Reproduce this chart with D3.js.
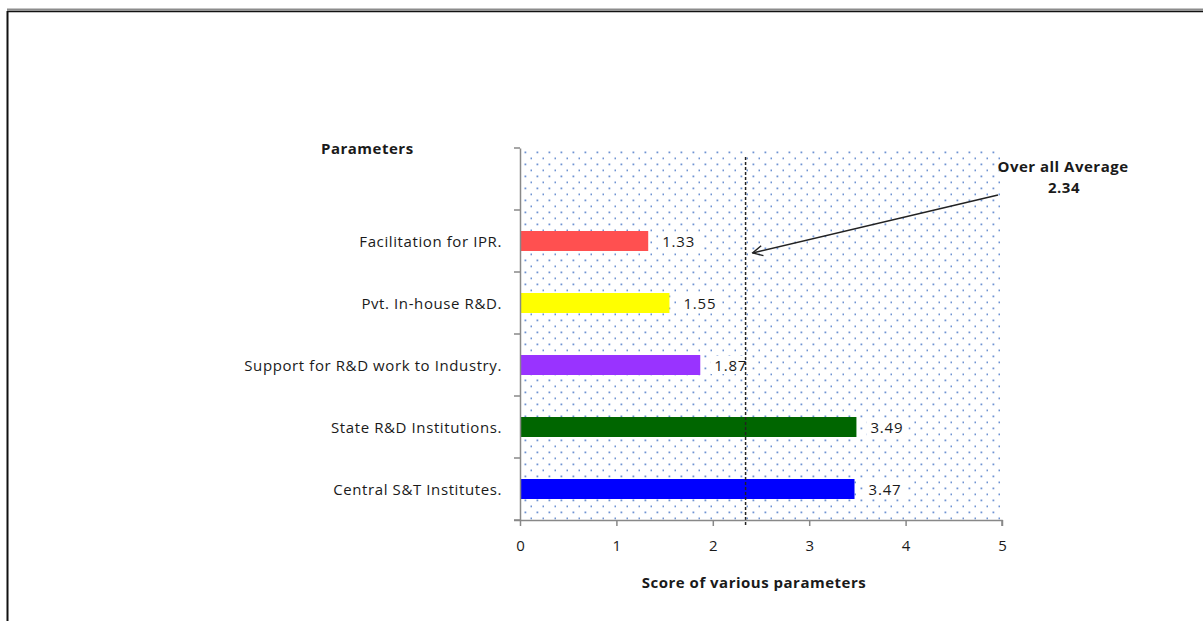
<!DOCTYPE html>
<html>
<head>
<meta charset="utf-8">
<script src="https://cdn.jsdelivr.net/npm/d3@7"></script>
<style>
  html, body { margin: 0; padding: 0; background: #fff; }
  svg { display: block; }
  text { font-family: "Open Sans", sans-serif; fill: #1a1a1a; }
</style>
</head>
<body>
<svg id="chart" width="1203" height="621"></svg>
<script>
// Parameter scores (top to bottom); the first band is left empty
const categories = ["", "Facilitation for IPR.", "Pvt. In-house R&D.", "Support for R&D work to Industry.", "State R&D Institutions.", "Central S&T Institutes."];
const scores = [null, 1.33, 1.55, 1.87, 3.49, 3.47];
const barColors = [null, "#ff5050", "#ffff00", "#9933ff", "#006600", "#0000ff"];
const xTicks = [0, 1, 2, 3, 4, 5];
const overallAverage = 2.34;

const FONT = "\"Open Sans\", sans-serif";
const svg = d3.select("#chart");

// outer frame
svg.append("line").attr("x1", 7).attr("x2", 1203).attr("y1", 9.5).attr("y2", 9.5)
  .attr("stroke", "#8c8c8c").attr("stroke-width", 2);
svg.append("line").attr("x1", 7).attr("x2", 1203).attr("y1", 11.5).attr("y2", 11.5)
  .attr("stroke", "#111").attr("stroke-width", 1.5);
svg.append("line").attr("x1", 7.5).attr("x2", 7.5).attr("y1", 11).attr("y2", 621)
  .attr("stroke", "#111").attr("stroke-width", 2);

const x = d3.scaleLinear().domain([0, 5]).range([520, 1002]);
const y = d3.scaleBand().domain(categories).range([148, 520]).padding(0);

// dotted plot-area fill
const defs = svg.append("defs");
const pat = defs.append("pattern").attr("id", "dots")
  .attr("patternUnits", "userSpaceOnUse")
  .attr("x", 520).attr("y", 148).attr("width", 12).attr("height", 12);
pat.append("rect").attr("x", 4.5).attr("y", 3.5).attr("width", 1.8).attr("height", 1.8).attr("fill", "#6f93d2");
pat.append("rect").attr("x", 10.5).attr("y", 9.5).attr("width", 1.8).attr("height", 1.8).attr("fill", "#6f93d2");

svg.append("rect")
  .attr("x", x(0)).attr("y", y.range()[0])
  .attr("width", x(5) - x(0)).attr("height", y.range()[1] - y.range()[0])
  .attr("fill", "url(#dots)");

// bars
const barH = 20;
const rows = categories.map((c, i) => ({ c, v: scores[i], color: barColors[i] })).filter(d => d.v != null);

svg.append("g").selectAll("rect").data(rows).join("rect")
  .attr("x", x(0))
  .attr("y", d => y(d.c) + y.bandwidth() / 2 - barH / 2)
  .attr("width", d => x(d.v) - x(0))
  .attr("height", barH)
  .attr("fill", d => d.color);

// value labels on white boxes
const vl = svg.append("g").selectAll("g").data(rows).join("g")
  .attr("transform", d => `translate(${x(d.v) + 10},${y(d.c) + y.bandwidth() / 2})`);
vl.append("rect").attr("x", 0).attr("y", -9).attr("width", 42).attr("height", 18).attr("fill", "#fff");
vl.append("text").attr("x", 4).attr("y", 5.5).attr("font-size", 15).attr("letter-spacing", 0.8)
  .text(d => d.v.toFixed(2));

// average line
svg.append("line")
  .attr("x1", x(overallAverage)).attr("x2", x(overallAverage))
  .attr("y1", 157).attr("y2", 527)
  .attr("stroke", "#222").attr("stroke-width", 1.5).attr("stroke-dasharray", "3,2");

// axes
const yAxis = d3.axisLeft(y).tickSize(0).tickFormat("");
const gy = svg.append("g").attr("transform", `translate(${x(0)},0)`).call(yAxis);
gy.select(".domain").attr("stroke", "#888").attr("stroke-width", 1.5);
// tick marks between categories
svg.append("g").selectAll("line")
  .data(categories.map(c => y(c)).concat([y.range()[1]]))
  .join("line")
  .attr("x1", x(0) - 6).attr("x2", x(0))
  .attr("y1", d => d).attr("y2", d => d)
  .attr("stroke", "#888").attr("stroke-width", 1.5);

// category labels
svg.append("g").selectAll("text").data(rows).join("text")
  .attr("x", 502)
  .attr("y", d => y(d.c) + y.bandwidth() / 2 + 5.5)
  .attr("text-anchor", "end")
  .attr("font-size", 15)
  .attr("letter-spacing", 0.6)
  .text(d => d.c);

const xAxis = d3.axisBottom(x).tickValues(xTicks).tickSize(6).tickFormat(d3.format("d"));
const gx = svg.append("g").attr("transform", `translate(0,${y.range()[1]})`).call(xAxis);
gx.select(".domain").attr("stroke", "#888").attr("stroke-width", 1.5).attr("d", `M${x(0) - 6},0.5H${x(5)}V6`);
gx.selectAll(".tick line").attr("stroke", "#888").attr("stroke-width", 1.5);
gx.selectAll(".tick text").attr("font-size", 15).attr("font-family", FONT)
  .attr("fill", "#1a1a1a").attr("dy", 0).attr("y", 31);

// titles
svg.append("text").attr("x", 321).attr("y", 154).attr("font-size", 15).attr("font-weight", "bold")
  .attr("letter-spacing", 0.5).text("Parameters");
svg.append("text").attr("x", 754).attr("y", 588).attr("font-size", 15).attr("font-weight", "bold")
  .attr("letter-spacing", 0.5).attr("text-anchor", "middle").text("Score of various parameters");

// average callout
svg.append("text").attr("x", 1063).attr("y", 172).attr("font-size", 15).attr("font-weight", "bold")
  .attr("letter-spacing", 0.5).attr("text-anchor", "middle").text("Over all Average");
svg.append("text").attr("x", 1064).attr("y", 193).attr("font-size", 15).attr("font-weight", "bold")
  .attr("letter-spacing", 0.5).attr("text-anchor", "middle").text(overallAverage.toFixed(2));

defs.append("marker").attr("id", "arrowhead")
  .attr("viewBox", "0 0 12 12").attr("refX", 11).attr("refY", 6)
  .attr("markerWidth", 12).attr("markerHeight", 12).attr("markerUnits", "userSpaceOnUse")
  .attr("orient", "auto")
  .append("path").attr("d", "M1,1L11,6L1,11").attr("fill", "none").attr("stroke", "#222").attr("stroke-width", 1.4);

svg.append("line")
  .attr("x1", 998).attr("y1", 195)
  .attr("x2", x(overallAverage) + 7).attr("y2", 253)
  .attr("stroke", "#222").attr("stroke-width", 1.5)
  .attr("marker-end", "url(#arrowhead)");
</script>
</body>
</html>
